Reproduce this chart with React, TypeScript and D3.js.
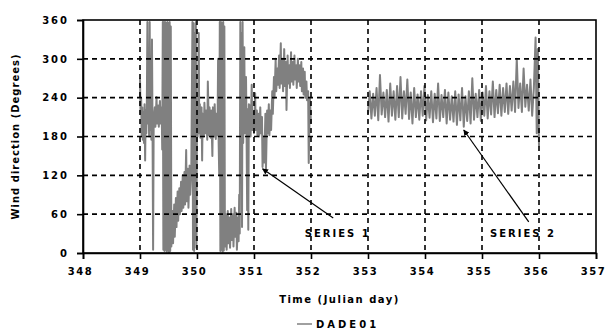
import { useRef, useEffect } from 'react';
import * as d3 from 'd3';

const WIDTH = 606;
const HEIGHT = 336;

const X_TICKS = [348, 349, 350, 351, 352, 353, 354, 355, 356, 357];
const Y_TICKS = [0, 60, 120, 180, 240, 300, 360];

// [julian day, wind direction in degrees]
const SERIES_1: [number, number][] = [
  [349.0, 270], [349.01, 215], [349.02, 240], [349.03, 180], [349.04, 225], [349.05, 175],
  [349.06, 218], [349.07, 170], [349.08, 230], [349.09, 143], [349.1, 220], [349.11, 185],
  [349.12, 230], [349.13, 357], [349.14, 200], [349.15, 235], [349.16, 180], [349.17, 357],
  [349.18, 190], [349.19, 240], [349.2, 175], [349.21, 330], [349.22, 190], [349.23, 5],
  [349.24, 205], [349.26, 225], [349.27, 195], [349.29, 241], [349.3, 200], [349.32, 228],
  [349.33, 195], [349.35, 235], [349.36, 200], [349.38, 225], [349.39, 160], [349.4, 357],
  [349.41, 5], [349.42, 357], [349.43, 3], [349.44, 357], [349.45, 5], [349.46, 355],
  [349.47, 2], [349.48, 357], [349.49, 4], [349.5, 355], [349.51, 0], [349.52, 357],
  [349.53, 3], [349.54, 350], [349.55, 10], [349.57, 65], [349.58, 15], [349.6, 75],
  [349.61, 25], [349.63, 85], [349.64, 40], [349.66, 95], [349.67, 50], [349.69, 100],
  [349.7, 60], [349.72, 110], [349.73, 65], [349.75, 120], [349.76, 70], [349.78, 125],
  [349.79, 75], [349.81, 159], [349.82, 80], [349.84, 130], [349.85, 70], [349.87, 135],
  [349.88, 90], [349.9, 128], [349.92, 357], [349.93, 5], [349.94, 355], [349.95, 3],
  [349.96, 340], [349.97, 20], [349.98, 357], [349.99, 8], [350.0, 220], [350.01, 180],
  [350.02, 225], [350.03, 340], [350.04, 185], [350.05, 230], [350.06, 178], [350.08, 225],
  [350.09, 143], [350.1, 215], [350.12, 180], [350.13, 232], [350.15, 185], [350.16, 220],
  [350.18, 175], [350.19, 265], [350.21, 182], [350.22, 225], [350.24, 178], [350.25, 220],
  [350.27, 150], [350.28, 225], [350.3, 180], [350.31, 230], [350.33, 176], [350.34, 215],
  [350.36, 182], [350.37, 300], [350.38, 170], [350.39, 120], [350.4, 357], [350.41, 3],
  [350.42, 357], [350.43, 5], [350.44, 355], [350.45, 2], [350.46, 357], [350.47, 4],
  [350.48, 350], [350.49, 10], [350.51, 60], [350.52, 5], [350.54, 65], [350.55, 15],
  [350.57, 55], [350.58, 8], [350.6, 68], [350.61, 20], [350.63, 60], [350.64, 10],
  [350.66, 70], [350.67, 25], [350.69, 62], [350.7, 5], [350.72, 55], [350.73, 18],
  [350.74, 90], [350.75, 30], [350.76, 357], [350.77, 150], [350.78, 340], [350.79, 40],
  [350.8, 357], [350.81, 170], [350.82, 225], [350.83, 318], [350.84, 185], [350.85, 225],
  [350.86, 272], [350.87, 180], [350.88, 66], [350.89, 222], [350.9, 36], [350.91, 230],
  [350.92, 185], [350.93, 228], [350.94, 180], [350.96, 260], [350.97, 190], [350.99, 218],
  [351.0, 185], [351.02, 247], [351.03, 190], [351.05, 220], [351.06, 182], [351.08, 215],
  [351.09, 180], [351.11, 225], [351.12, 185], [351.14, 210], [351.15, 133], [351.17, 180],
  [351.18, 140], [351.2, 215], [351.21, 130], [351.23, 220], [351.24, 185], [351.26, 230],
  [351.27, 182], [351.29, 220], [351.3, 190], [351.32, 250], [351.33, 215], [351.35, 272],
  [351.36, 240], [351.38, 300], [351.39, 250], [351.41, 285], [351.42, 260], [351.44, 305],
  [351.45, 255], [351.47, 324], [351.48, 262], [351.5, 300], [351.51, 250], [351.53, 315],
  [351.54, 258], [351.56, 295], [351.57, 221], [351.59, 305], [351.6, 262], [351.62, 290],
  [351.63, 255], [351.65, 310], [351.66, 265], [351.68, 295], [351.69, 260], [351.71, 305],
  [351.72, 268], [351.74, 290], [351.75, 255], [351.77, 300], [351.78, 265], [351.8, 290],
  [351.81, 258], [351.83, 295], [351.84, 250], [351.86, 285], [351.87, 245], [351.89, 280],
  [351.9, 240], [351.92, 265], [351.93, 236], [351.95, 250], [351.96, 139], [351.98, 240],
  [352.0, 200],
];

const SERIES_2: [number, number][] = [
  [353.0, 215], [353.03, 250], [353.06, 208], [353.09, 246], [353.12, 212], [353.15, 255],
  [353.18, 205], [353.21, 275], [353.24, 214], [353.27, 248], [353.3, 210], [353.33, 252],
  [353.36, 203], [353.39, 262], [353.42, 212], [353.45, 250], [353.48, 206], [353.51, 258],
  [353.54, 210], [353.57, 272], [353.6, 208], [353.63, 250], [353.66, 215], [353.69, 268],
  [353.72, 207], [353.75, 248], [353.78, 200], [353.81, 255], [353.84, 210], [353.87, 245],
  [353.9, 206], [353.93, 250], [353.96, 212], [353.99, 258], [354.02, 205], [354.05, 244],
  [354.08, 209], [354.11, 250], [354.14, 202], [354.17, 246], [354.2, 208], [354.23, 262],
  [354.26, 204], [354.29, 244], [354.32, 210], [354.35, 252], [354.38, 200], [354.41, 248],
  [354.44, 206], [354.47, 242], [354.5, 203], [354.53, 250], [354.56, 198], [354.59, 245],
  [354.62, 205], [354.65, 255], [354.68, 195], [354.71, 242], [354.74, 204], [354.77, 250],
  [354.8, 200], [354.83, 270], [354.86, 206], [354.89, 246], [354.92, 210], [354.95, 252],
  [354.98, 204], [355.01, 248], [355.04, 212], [355.07, 258], [355.1, 208], [355.13, 250],
  [355.16, 214], [355.19, 265], [355.22, 210], [355.25, 252], [355.28, 216], [355.31, 260],
  [355.34, 212], [355.37, 255], [355.4, 218], [355.43, 262], [355.46, 215], [355.49, 258],
  [355.52, 220], [355.55, 265], [355.58, 218], [355.61, 300], [355.64, 224], [355.67, 262],
  [355.7, 218], [355.73, 285], [355.76, 226], [355.79, 260], [355.82, 220], [355.85, 268],
  [355.88, 212], [355.91, 255], [355.94, 333], [355.96, 185], [355.98, 315], [356.0, 165],
];

// callouts: label anchor and arrow tail / tip, in data units
const CALLOUTS = [
  { label: 'SERIES 1', at: [352.47, 25], tail: [352.39, 54], tip: [351.15, 130] },
  { label: 'SERIES 2', at: [355.72, 25], tail: [355.82, 48], tip: [354.68, 190] },
];

const FONT = '"DejaVu Sans", Arial, sans-serif';

export default function App() {
  const svgRef = useRef<SVGSVGElement>(null);

  useEffect(() => {
    const svg = d3.select(svgRef.current);
    svg.selectAll('*').remove();

    const x = d3.scaleLinear().domain([348, 357]).range([83, 596]);
    const y = d3.scaleLinear().domain([0, 360]).range([253, 20]);

    svg.append('rect').attr('width', WIDTH).attr('height', HEIGHT).attr('fill', '#fff');

    svg
      .append('defs')
      .append('marker')
      .attr('id', 'arrow')
      .attr('viewBox', '0 0 10 10')
      .attr('refX', 9)
      .attr('refY', 5)
      .attr('markerWidth', 6)
      .attr('markerHeight', 6)
      .attr('markerUnits', 'userSpaceOnUse')
      .attr('orient', 'auto')
      .append('path')
      .attr('d', 'M0,0 L10,5 L0,10 z')
      .attr('fill', '#000');

    // series
    const line = d3
      .line<[number, number]>()
      .x((d) => x(d[0]))
      .y((d) => y(d[1]));
    [SERIES_1, SERIES_2].forEach((s) => {
      svg
        .append('path')
        .attr('d', line(s))
        .attr('fill', 'none')
        .attr('stroke', '#808080')
        .attr('stroke-width', 2)
        .attr('stroke-linejoin', 'round');
    });

    // grid
    const grid = svg.append('g').attr('stroke', '#000').attr('stroke-width', 1.6).attr('stroke-dasharray', '5,4');
    X_TICKS.slice(1, -1).forEach((t) => {
      grid.append('line').attr('x1', x(t)).attr('x2', x(t)).attr('y1', y(360)).attr('y2', y(0));
    });
    Y_TICKS.slice(1, -1).forEach((t) => {
      grid.append('line').attr('x1', x(348)).attr('x2', x(357)).attr('y1', y(t)).attr('y2', y(t));
    });

    // frame
    svg
      .append('rect')
      .attr('x', x(348))
      .attr('y', y(360))
      .attr('width', x(357) - x(348))
      .attr('height', y(0) - y(360))
      .attr('fill', 'none')
      .attr('stroke', '#000')
      .attr('stroke-width', 1.6);

    // axes
    const xAxis = svg
      .append('g')
      .attr('transform', `translate(0,${y(0)})`)
      .call(d3.axisBottom(x).tickValues(X_TICKS).tickSize(6).tickFormat(d3.format('d')));
    const yAxis = svg
      .append('g')
      .attr('transform', `translate(${x(348)},0)`)
      .call(d3.axisLeft(y).tickValues(Y_TICKS).tickSize(6).tickFormat(d3.format('d')));
    [xAxis, yAxis].forEach((g) => {
      g.select('.domain').attr('stroke-width', 1.6);
      g.selectAll('.tick line').attr('stroke-width', 1.6);
      g.selectAll('.tick text')
        .attr('font-family', FONT)
        .attr('font-weight', 'bold')
        .attr('font-size', 10)
        .attr('letter-spacing', 2)
        .attr('fill', '#000');
    });
    xAxis.selectAll('.tick text').attr('dy', '1.3em').attr('letter-spacing', 1.5).attr('dx', -3);
    yAxis.selectAll('.tick text').attr('x', -14);

    // axis titles
    svg
      .append('text')
      .attr('x', (x(348) + x(357)) / 2)
      .attr('y', 303)
      .attr('text-anchor', 'middle')
      .attr('font-family', FONT)
      .attr('font-weight', 'bold')
      .attr('font-size', 10)
      .attr('letter-spacing', 1.5)
      .text('Time (Julian day)');
    svg
      .append('text')
      .attr('transform', `translate(19,${(y(0) + y(360)) / 2}) rotate(-90)`)
      .attr('text-anchor', 'middle')
      .attr('font-family', FONT)
      .attr('font-weight', 'bold')
      .attr('font-size', 10)
      .attr('letter-spacing', 1)
      .text('Wind direction (Degrees)');

    // callouts
    CALLOUTS.forEach((c) => {
      svg
        .append('line')
        .attr('x1', x(c.tail[0]))
        .attr('y1', y(c.tail[1]))
        .attr('x2', x(c.tip[0]))
        .attr('y2', y(c.tip[1]))
        .attr('stroke', '#000')
        .attr('stroke-width', 1.2)
        .attr('marker-end', 'url(#arrow)');
      svg
        .append('text')
        .attr('x', x(c.at[0]))
        .attr('y', y(c.at[1]))
        .attr('text-anchor', 'middle')
        .attr('font-family', FONT)
        .attr('font-weight', 'bold')
        .attr('font-size', 10)
        .attr('letter-spacing', 2)
        .text(c.label);
    });

    // legend
    const legend = svg.append('g').attr('transform', 'translate(297,324)');
    legend.append('line').attr('x1', 0).attr('x2', 15).attr('stroke', '#808080').attr('stroke-width', 1.5);
    legend
      .append('text')
      .attr('x', 19)
      .attr('y', 4)
      .attr('font-family', FONT)
      .attr('font-weight', 'bold')
      .attr('font-size', 10)
      .attr('letter-spacing', 3)
      .text('DADE01');
  }, []);

  return (
    <svg
      ref={svgRef}
      width={WIDTH}
      height={HEIGHT}
      style={{ position: 'absolute', left: 0, top: 0 }}
    />
  );
}
